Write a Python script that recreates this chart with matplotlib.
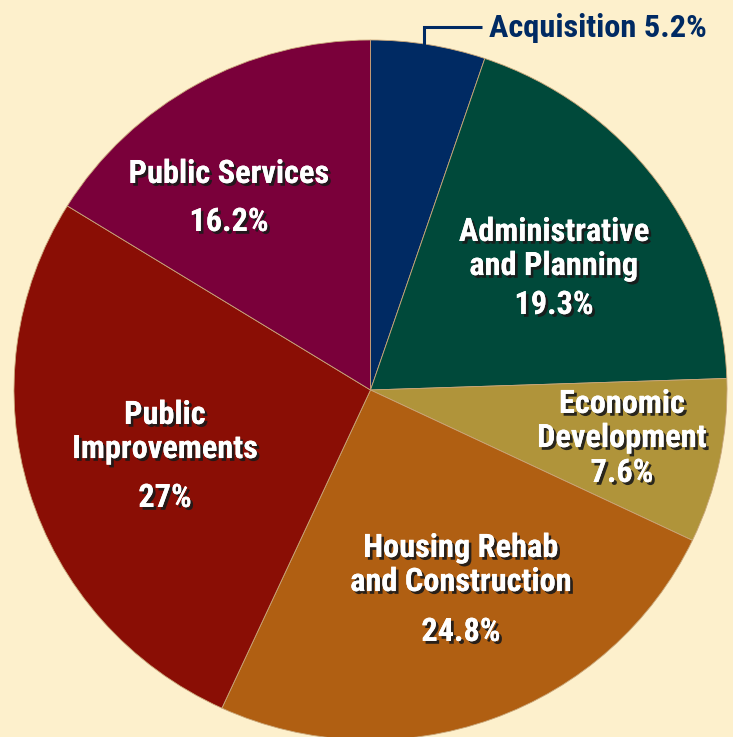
import matplotlib
matplotlib.use('Agg')
import matplotlib.pyplot as plt
import matplotlib.patheffects as pe

# slices, clockwise from 12 o'clock
names = ['Acquisition', 'Administrative\nand Planning', 'Economic\nDevelopment',
         'Housing Rehab\nand Construction', 'Public\nImprovements', 'Public Services']
shares = [5.2, 19.3, 7.6, 24.8, 27.0, 16.2]
pct_labels = ['5.2%', '19.3%', '7.6%', '24.8%', '27%', '16.2%']
colors = ['#002a63', '#00493a', '#b0943a', '#b05f12', '#8a0e05', '#7a003a']

bg = '#fdf0cc'
W, H = 733, 737
# pie is a touch wider than tall in the reference
rx, ry = 356.5, 350.0
k = rx / ry


def py(y_px):
    # pixel row (from top) -> data y
    return (H - y_px) * k


cx, cy = 370.5, py(390)

plt.rcParams['font.family'] = ['Roboto Condensed', 'IBM Plex Sans Condensed', 'DejaVu Sans']

fig = plt.figure(figsize=(W / 100, H / 100), dpi=100, facecolor=bg)
ax = fig.add_axes([0, 0, 1, 1])
ax.set_facecolor(bg)

ax.pie(shares, colors=colors, startangle=90, counterclock=False,
       center=(cx, cy), radius=rx, normalize=True, frame=True,
       wedgeprops=dict(edgecolor='#c9a77a', linewidth=0.6))
ax.set_aspect('auto')
ax.set_xlim(0, W)
ax.set_ylim(0, H * k)
ax.axis('off')

shadow = [pe.withSimplePatchShadow(offset=(2, -2), shadow_rgbFace='#1a1a1a', alpha=0.9),
          pe.Normal()]

# label positions in pixels (x, y of name block, y of percentage)
label_pos = {
    1: (554, 249, 305),
    2: (622, 421, 473),
    3: (461, 565, 632),
    4: (165, 432, 498),
    5: (229, 174, 222),
}
fs = 23.3
for i, (x, yn, yp) in label_pos.items():
    ax.text(x, py(yn), names[i], color='white', fontsize=fs, fontweight='bold',
            ha='center', va='center', linespacing=1.17, path_effects=shadow)
    ax.text(x, py(yp), pct_labels[i], color='white', fontsize=fs, fontweight='bold',
            ha='center', va='center', path_effects=shadow)

# acquisition callout
ax.plot([424, 424, 482], [py(46), py(27), py(27)], color='#002a63', lw=2.2,
        solid_capstyle='butt', solid_joinstyle='miter')
ax.text(489, py(28), names[0] + ' ' + pct_labels[0], color='#002a63', fontsize=fs,
        fontweight='bold', ha='left', va='center')

fig.savefig('out.png', dpi=100, facecolor=bg)
